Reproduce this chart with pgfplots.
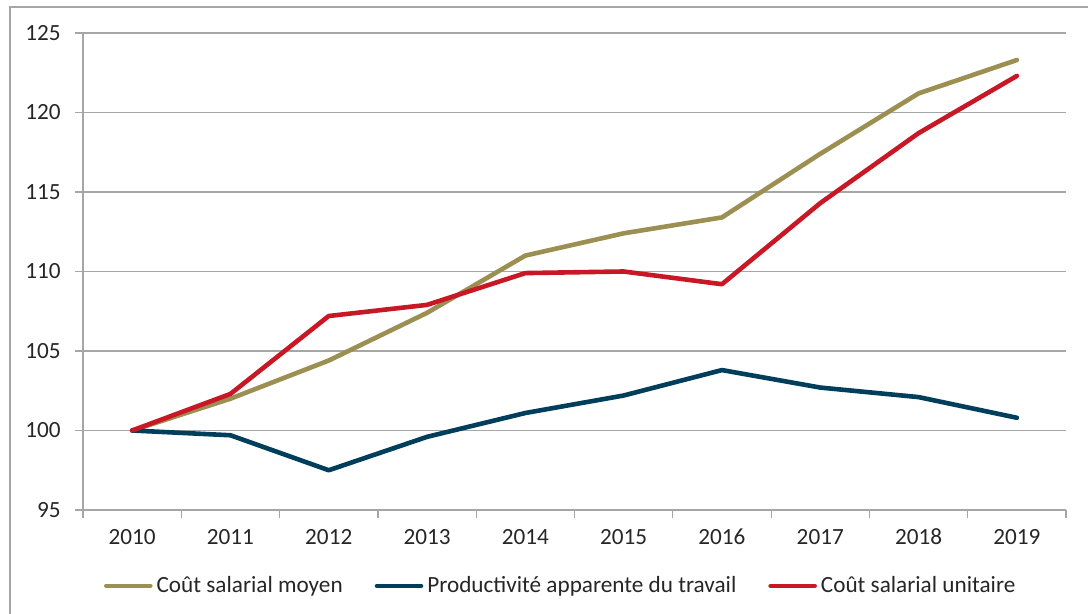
\documentclass[border=0pt]{standalone}
\usepackage{fontspec}
\setmainfont{Carlito}
\usepackage{pgfplots}
\pgfplotsset{compat=1.18}
\definecolor{cmoyen}{RGB}{155,143,82}
\definecolor{cprod}{RGB}{0,62,92}
\definecolor{cunit}{RGB}{200,24,38}
\definecolor{gridgray}{RGB}{166,166,166}
\definecolor{txt}{RGB}{38,38,38}
\begin{document}
\begin{tikzpicture}
\useasboundingbox (0,0) rectangle (544pt,307pt);
\draw[gridgray, line width=0.6pt] (5pt,-20pt) rectangle (600pt,303.5pt);
\begin{axis}[
  at={(41.5pt,52pt)}, anchor=south west,
  scale only axis, width=491.5pt, height=238.5pt,
  xmin=-0.5, xmax=9.5, ymin=95, ymax=125,
  axis x line*=bottom, axis y line*=left,
  axis line style={draw=gridgray, line width=0.6pt, -},
  ytick={95,100,...,125},
  xtick={0,...,9},
  xticklabels={2010,2011,2012,2013,2014,2015,2016,2017,2018,2019},
  minor xtick={-0.5,0.5,...,9.5},
  ymajorgrids, major grid style={gridgray, line width=0.6pt},
  tick align=outside,
  major tick length=4pt, minor tick length=4pt,
  major x tick style={draw=none},
  minor x tick style={gridgray, line width=0.6pt},
  y tick style={gridgray, line width=0.6pt},
  /pgf/number format/assume math mode=true,
  tick label style={font=\fontsize{11.6}{13.9}\selectfont, text=txt},
  yticklabel style={xshift=-3.6pt},
  xticklabel style={yshift=-2pt},
  legend columns=3,
  legend style={draw=none, fill=none, at={(0.487,-0.159)}, anchor=center,
    font=\fontsize{11.6}{13.9}\selectfont, text=txt,
    /tikz/every even column/.append style={column sep=14pt}},
  legend image code/.code={\draw[#1] (0pt,0pt) -- (22pt,0pt);},
  every axis plot/.append style={line width=2.3pt, line cap=round, line join=round},
]
\addplot[cmoyen] coordinates {(0,100) (1,102.0) (2,104.4) (3,107.4) (4,111.0) (5,112.4) (6,113.4) (7,117.4) (8,121.2) (9,123.3)};
\addlegendentry{Coût salarial moyen}
\addplot[cprod] coordinates {(0,100) (1,99.7) (2,97.5) (3,99.6) (4,101.1) (5,102.2) (6,103.8) (7,102.7) (8,102.1) (9,100.8)};
\addlegendentry{Productivité apparente du travail}
\addplot[cunit] coordinates {(0,100) (1,102.3) (2,107.2) (3,107.9) (4,109.9) (5,110.0) (6,109.2) (7,114.3) (8,118.7) (9,122.3)};
\addlegendentry{Coût salarial unitaire}
\end{axis}
\end{tikzpicture}
\end{document}
